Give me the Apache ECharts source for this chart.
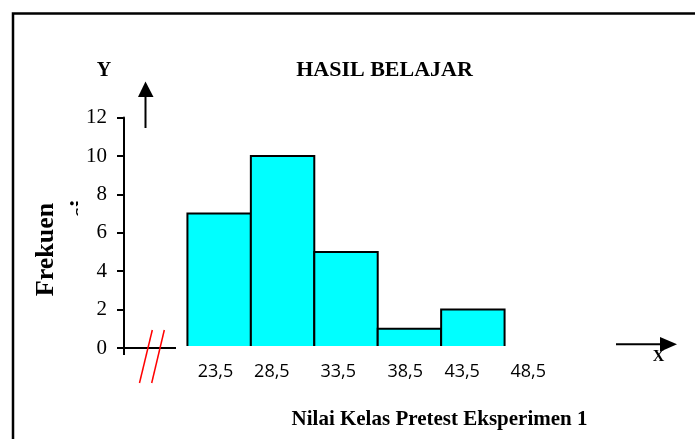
<!DOCTYPE html>
<html>
<head>
<meta charset="utf-8">
<script src="https://cdn.jsdelivr.net/npm/echarts@6/dist/echarts.min.js"></script>
<style>
html,body{margin:0;padding:0;background:#fff;}
#c{width:695px;height:439px;}
</style>
</head>
<body>
<div id="c"></div>
<script>
// ---- data ----
var binStarts = [23.5, 28.5, 33.5, 38.5, 43.5];
var binWidth = 5;
var frequencies = [7, 10, 5, 1, 2];
var tickValues = [23.5, 28.5, 33.5, 38.5, 43.5, 48.5];
var tickLabels = ['23,5', '28,5', '33,5', '38,5', '43,5', '48,5'];
var titleText = 'HASIL BELAJAR';
var xTitle = 'Nilai Kelas Pretest Eksperimen 1';
var yTitle = 'Frekuen';
var yTitleRest = 'si';

// ---- styling (label horizontal shifts, px, as in the original layout) ----
var labelShift = [28, 21, 24, 27.5, 21, 23.6];

var serif = '"Liberation Serif","Times New Roman",serif';

var chart = echarts.init(document.getElementById('c'), null, {renderer: 'canvas'});

var barData = binStarts.map(function (s, i) { return [s, s + binWidth, frequencies[i]]; });

var rich = {};
labelShift.forEach(function (d, i) {
  rich['s' + i] = {padding: [0, 0, 0, 2 * d], fontFamily: '"Open Sans", sans-serif', fontSize: 18, color: '#000'};
});

chart.setOption({
  animation: false,
  backgroundColor: '#ffffff',
  title: {
    text: titleText,
    left: 384.5,
    top: 59,
    padding: 0,
    textAlign: 'center',
    textStyle: {fontFamily: serif, fontWeight: 'bold', fontSize: 22, color: '#000'}
  },
  grid: {left: 124, top: 117.6, bottom: 91, right: 127, containLabel: false},
  xAxis: {
    type: 'value',
    min: 18.5,
    max: 53.5,
    interval: 5,
    axisLine: {show: false},
    axisTick: {show: false},
    splitLine: {show: false},
    axisLabel: {
      show: true,
      margin: 15,
      fontFamily: '"Open Sans", sans-serif',
      fontSize: 18,
      color: '#000',
      rich: rich,
      formatter: function (v) {
        for (var i = 0; i < tickValues.length; i++) {
          if (Math.abs(tickValues[i] - v) < 1e-6) return '{s' + i + '|' + tickLabels[i] + '}';
        }
        return '';
      }
    }
  },
  yAxis: {
    type: 'value',
    min: 0,
    max: 12,
    interval: 2,
    axisLine: {show: true, lineStyle: {color: '#000', width: 2}},
    axisTick: {show: true, inside: false, length: 7, lineStyle: {color: '#000', width: 2}},
    splitLine: {show: false},
    axisLabel: {margin: 17, fontFamily: serif, fontSize: 21, color: '#000'}
  },
  series: [{
    type: 'custom',
    data: barData,
    encode: {x: [0, 1], y: 2},
    renderItem: function (params, api) {
      var p0 = api.coord([api.value(0), 0]);
      var p1 = api.coord([api.value(1), api.value(2)]);
      var yb = p0[1] - 2;
      return {
        type: 'group',
        children: [
          {type: 'rect', shape: {x: p0[0], y: p1[1], width: p1[0] - p0[0], height: yb - p1[1]},
           style: {fill: '#00FFFF', stroke: null}},
          {type: 'polyline', shape: {points: [[p0[0], yb], [p0[0], p1[1]], [p1[0], p1[1]], [p1[0], yb]]},
           style: {fill: null, stroke: '#000', lineWidth: 2}}
        ]
      };
    }
  }]
});

function px(v) { return chart.convertToPixel({gridIndex: 0}, v); }
var origin = px([18.5, 0]);
var ax = origin[0], ay = origin[1];

chart.setOption({
  graphic: [
    // outer frame
    {type: 'rect', shape: {x: 13, y: 13.5, width: 720, height: 500}, style: {fill: null, stroke: '#000', lineWidth: 2.5}, z: 100},
    // short x-axis segment and y-axis extension below zero
    {type: 'line', shape: {x1: ax - 7, y1: ay, x2: ax + 52, y2: ay}, style: {stroke: '#000', lineWidth: 2}, z: 100},
    {type: 'line', shape: {x1: ax, y1: ay, x2: ax, y2: ay + 7}, style: {stroke: '#000', lineWidth: 2}, z: 100},
    // axis break marks
    {type: 'line', shape: {x1: 139.5, y1: 383, x2: 152.3, y2: 330}, style: {stroke: '#ff0000', lineWidth: 1.5}, z: 100},
    {type: 'line', shape: {x1: 151.7, y1: 383, x2: 164.3, y2: 330}, style: {stroke: '#ff0000', lineWidth: 1.5}, z: 100},
    // Y arrow
    {type: 'line', shape: {x1: 145.5, y1: 128, x2: 145.5, y2: 95}, style: {stroke: '#000', lineWidth: 2}, z: 100},
    {type: 'polygon', shape: {points: [[145.5, 81.5], [138, 97], [153.5, 97]]}, style: {fill: '#000'}, z: 100},
    // X arrow
    {type: 'line', shape: {x1: 616, y1: 344.3, x2: 662, y2: 344.3}, style: {stroke: '#000', lineWidth: 2}, z: 100},
    {type: 'polygon', shape: {points: [[677, 344.3], [660, 337], [660, 351.8]]}, style: {fill: '#000'}, z: 100},
    // axis letters
    {type: 'text', x: 104, y: 70.5, style: {text: 'Y', fontFamily: serif, fontWeight: 'bold', fontSize: 20, fill: '#000', textAlign: 'center', textVerticalAlign: 'middle'}, z: 100},
    {type: 'text', x: 658.5, y: 356.5, style: {text: 'X', fontFamily: serif, fontWeight: 'bold', fontSize: 16, fill: '#000', textAlign: 'center', textVerticalAlign: 'middle'}, z: 99},
    // x title
    {type: 'text', x: 439.5, y: 420, style: {text: xTitle, fontFamily: serif, fontWeight: 'bold', fontSize: 21, fill: '#000', textAlign: 'center', textVerticalAlign: 'middle'}, z: 100},
    // y title (rotated)
    {type: 'text', x: 46, y: 249.5, rotation: Math.PI / 2, style: {text: yTitle, fontFamily: serif, fontWeight: 'bold', fontSize: 26, fill: '#000', textAlign: 'center', textVerticalAlign: 'middle'}, z: 100},
    // clipped second line of y title
    {type: 'text', x: 81, y: 217, rotation: Math.PI / 2, style: {text: yTitleRest, fontFamily: serif, fontWeight: 'bold', fontSize: 26, fill: '#000', textAlign: 'left', textVerticalAlign: 'middle'}, z: 100},
    {type: 'rect', shape: {x: 78, y: 194, width: 14, height: 28}, style: {fill: '#fff'}, z: 101}
  ]
});
</script>
</body>
</html>
